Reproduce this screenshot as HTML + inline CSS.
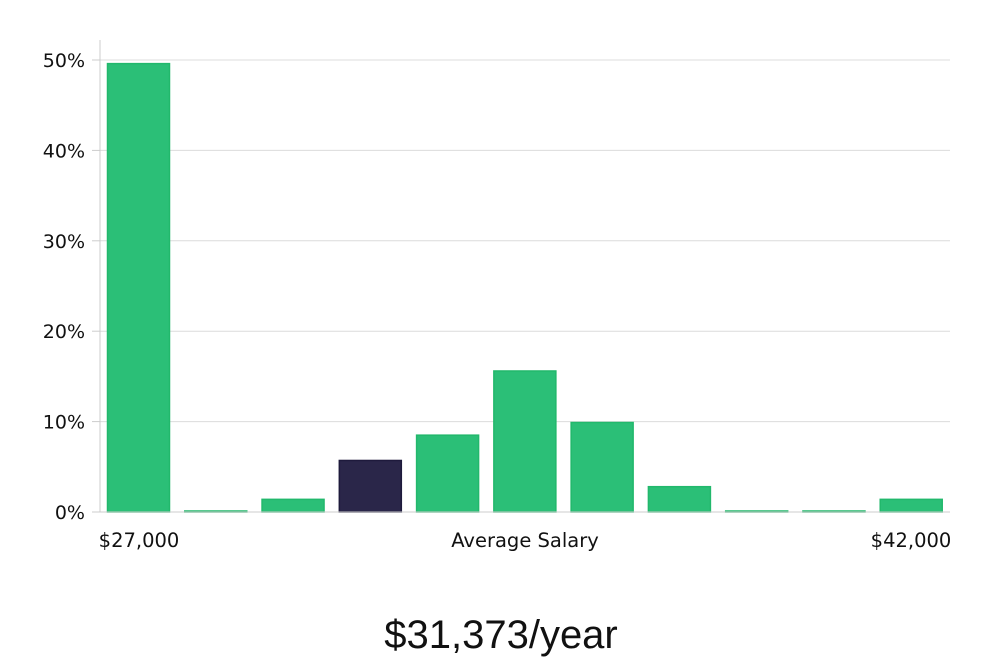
<!DOCTYPE html>
<html><head><meta charset="utf-8"><style>
html,body{margin:0;padding:0;background:#fff;width:1000px;height:660px;overflow:hidden}
svg text{font-family:"DejaVu Sans","Liberation Sans",sans-serif;fill:#111}
</style></head><body>
<svg id="chart" width="1000" height="660">
<g id="grid"></g><g id="bars"></g><g id="axes"></g>
<text x="139" y="547" font-size="19.5" text-anchor="middle">$27,000</text>
<text x="525" y="547" font-size="19.5" text-anchor="middle">Average Salary</text>
<text x="911" y="547" font-size="19.5" text-anchor="middle">$42,000</text>
<text x="501" y="648" font-size="40" text-anchor="middle" style="font-family:'Liberation Sans',sans-serif;font-weight:300">$31,373/year</text>
</svg>
<script>
const values=[49.6,0.1,1.4,5.7,8.5,15.6,9.9,2.8,0.1,0.1,1.4];
const highlightIndex=3;
const yTicks=[0,10,20,30,40,50];
const yTickLabels=["0%","10%","20%","30%","40%","50%"];
const NS="http://www.w3.org/2000/svg";
const x0=100,x1=950,yBase=512,yTop50=60;
const y=v=>yBase-(v/50)*(yBase-yTop50);
const slot=(x1-x0)/values.length;
const xb=i=>x0+7.5+i*slot;
const mk=(t,a,p)=>{const e=document.createElementNS(NS,t);for(const k in a)e.setAttribute(k,a[k]);document.getElementById(p).appendChild(e);return e;};
yTicks.forEach((t,i)=>{
  if(t>0){const g=mk('line',{x1:x0,x2:x1,y1:y(t),y2:y(t),stroke:'#dcdcdc','stroke-width':1},'grid');
  
  }
  const tk=mk('line',{x1:x0-8,x2:x0,y1:y(t),y2:y(t),stroke:'#ccc'},'axes');
  
  
  const lb=mk('text',{x:85,y:y(t)+7,'font-size':19,'text-anchor':'end'},'axes');
  lb.textContent=yTickLabels[i];
  
  
});
const ax=mk('line',{x1:x0,x2:x0,y1:40,y2:yBase,stroke:'#ccc'},'axes');


const bx=mk('line',{x1:x0,x2:x1,y1:yBase,y2:yBase,stroke:'#ccc'},'axes');


values.forEach((v,i)=>{
  const h=Math.max(1,yBase-y(v));
  const r=mk('rect',{x:xb(i),y:yBase-h,width:62,height:h,
    fill:i===highlightIndex?'#2a2649':'#2bbf77',stroke:i===highlightIndex?'#1e1a3c':'#22b86c','stroke-width':1.5},'bars');
  
  
});
</script>
</body></html>
